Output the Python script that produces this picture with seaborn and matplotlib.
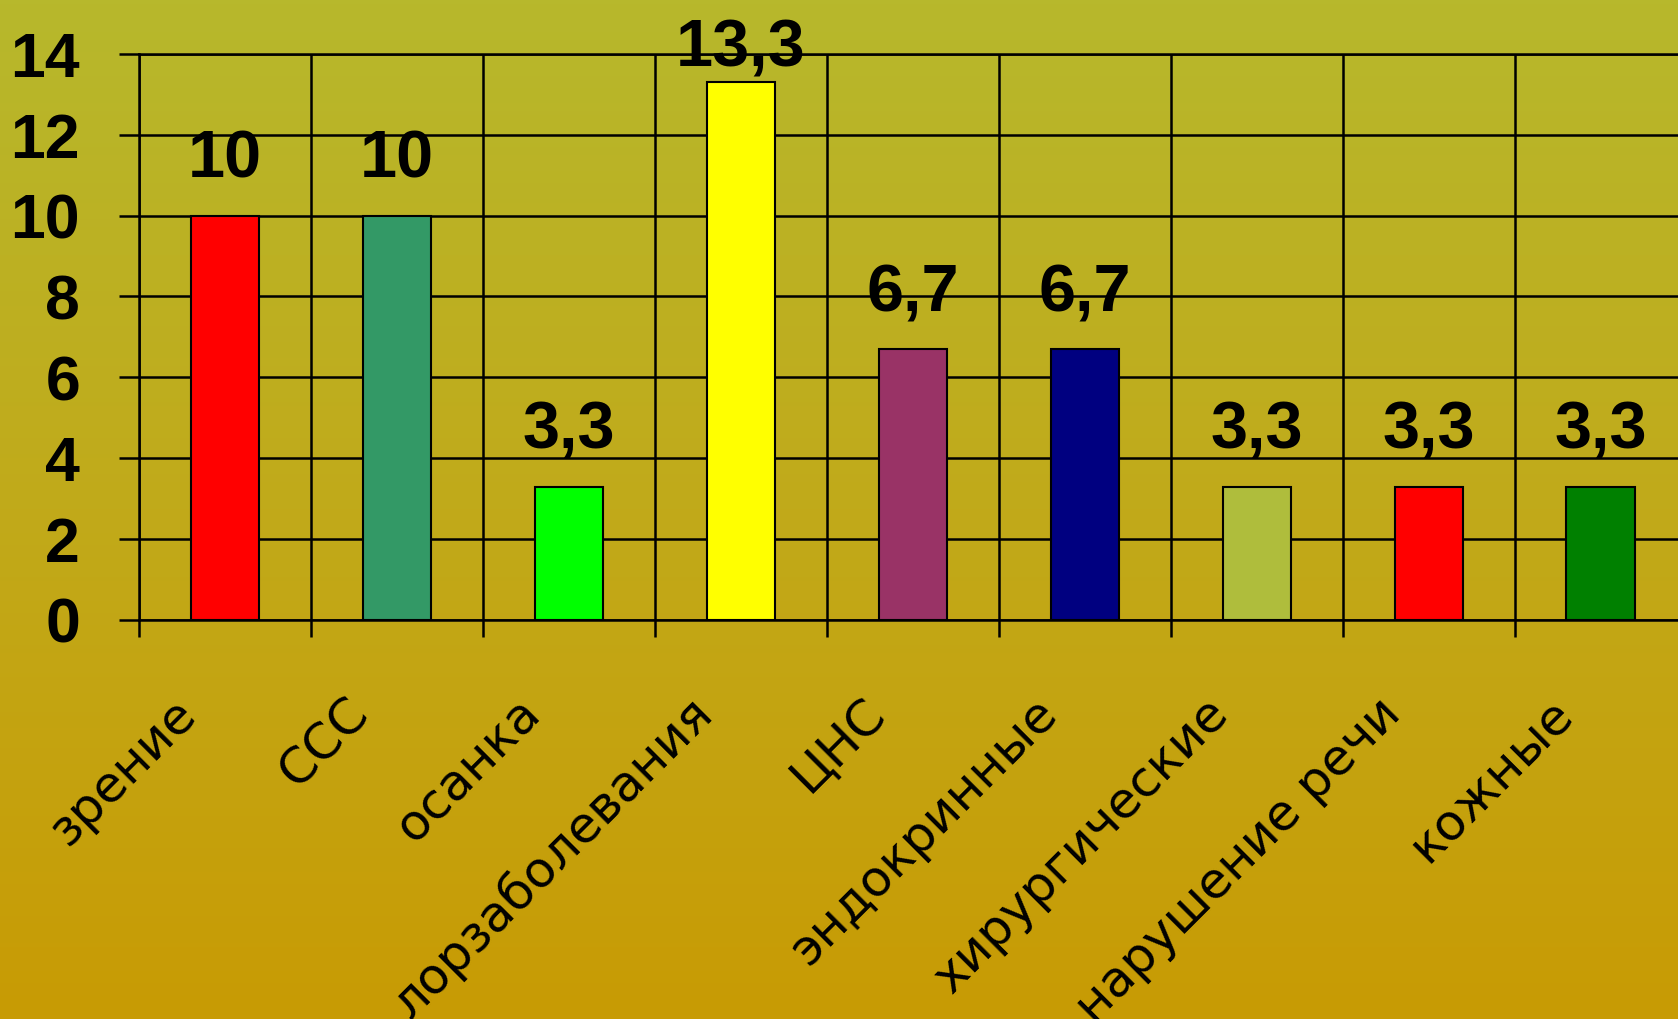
import matplotlib
matplotlib.use('Agg')
import matplotlib.pyplot as plt
import matplotlib.transforms as mtransforms
from matplotlib.colors import LinearSegmentedColormap
import seaborn as sns
import numpy as np

categories = ['зрение', 'ССС', 'осанка', 'лорзаболевания', 'ЦНС',
              'эндокринные', 'хирургические', 'нарушение речи', 'кожные']
values = [10, 10, 3.3, 13.3, 6.7, 6.7, 3.3, 3.3, 3.3]
value_labels = ['10', '10', '3,3', '13,3', '6,7', '6,7', '3,3', '3,3', '3,3']
bar_colors = ['#FF0000', '#339966', '#00FF00', '#FFFF00', '#993366',
              '#000080', '#AFBD3C', '#FF0000', '#008000']
y_ticks = [0, 2, 4, 6, 8, 10, 12, 14]

sns.set_style('white')
plt.rcParams['font.family'] = ['DejaVu Sans']
plt.rcParams['text.color'] = 'black'
plt.rcParams['xtick.color'] = 'black'
plt.rcParams['ytick.color'] = 'black'

fig = plt.figure(figsize=(16.78, 10.19), dpi=100)

# gradient background over the whole slide
bg = fig.add_axes([0, 0, 1, 1], zorder=-10)
grad = np.linspace(0, 1, 256).reshape(-1, 1)
cmap = LinearSegmentedColormap.from_list('bg', ['#B7B82C', '#C1AA1A', '#C89B04'])
bg.imshow(grad, aspect='auto', cmap=cmap, extent=[0, 1, 0, 1])
bg.set_axis_off()

ax = fig.add_axes([0.0828, 0.3916, 0.9225, 0.5555])
ax.set_facecolor('none')

lw = 1.8
sns.barplot(x=categories, y=values, hue=categories, palette=bar_colors, legend=False,
            width=0.4, edgecolor='black', linewidth=1.5, saturation=1, ax=ax)

ax.set_xlim(-0.5, 8.5)
ax.set_ylim(0, 14)
ax.set_xlabel('')
ax.set_ylabel('')
ax.set_axisbelow(True)

# value labels above bars (Excel pulls the tallest one down under the top edge)
for i, (v, lab) in enumerate(zip(values, value_labels)):
    ax.text(i, min(v + 0.94, 13.69), lab, ha='center', va='baseline',
            fontsize=48, fontweight='bold', family='Liberation Sans', color='black')

# y axis
ax.set_yticks(y_ticks)
ax.set_yticklabels([str(t) for t in y_ticks], fontsize=45, fontweight='bold',
                   family='Liberation Sans', color='black')
ax.tick_params(axis='y', left=True, direction='out', length=14.4, width=lw,
               color='black', pad=28)
ax.grid(which='major', axis='y', color='black', linewidth=lw)

# x axis: gridlines/ticks at category boundaries, labels at centers
ax.set_xticks(np.arange(-0.5, 9, 1), minor=True)
ax.set_xticks(range(len(categories)))
ax.set_xticklabels(categories, rotation=45, ha='right', va='center',
                   rotation_mode='anchor', fontsize=36, color='black')
ax.tick_params(axis='x', which='major', length=0, pad=62)
ax.tick_params(axis='x', which='minor', bottom=True, direction='out', length=12,
               width=lw, color='black')
ax.grid(which='minor', axis='x', color='black', linewidth=lw)
ax.grid(which='major', axis='x', visible=False)

shift = mtransforms.ScaledTranslation(-36 / 100, 0, fig.dpi_scale_trans)
for lab in ax.get_xticklabels():
    lab.set_transform(lab.get_transform() + shift)

for side in ['left', 'bottom', 'top']:
    ax.spines[side].set_color('black')
    ax.spines[side].set_linewidth(lw)
ax.spines['right'].set_visible(False)

fig.savefig('out.png', dpi=100)
plt.close()
